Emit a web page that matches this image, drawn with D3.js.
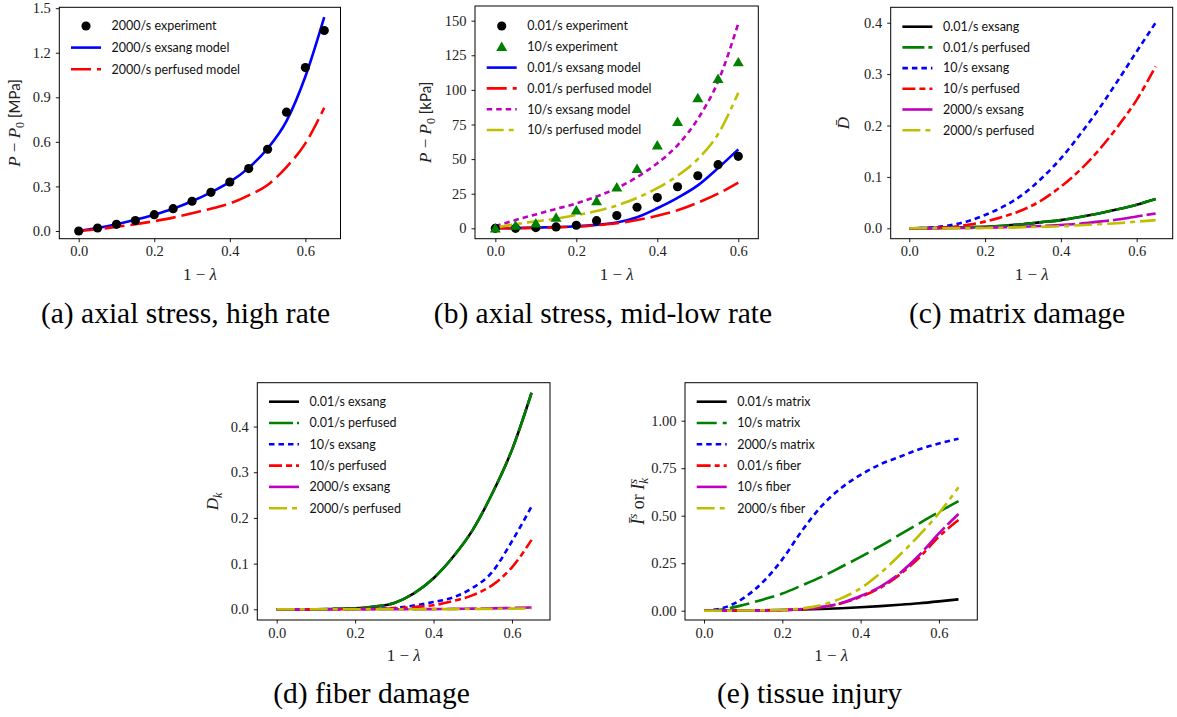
<!DOCTYPE html>
<html>
<head>
<meta charset="utf-8">
<script src="https://cdn.jsdelivr.net/npm/d3@7"></script>
<style>
  html, body { margin: 0; padding: 0; background: #ffffff; }
  svg { display: block; }
</style>
</head>
<body>
<svg id="fig" width="1177" height="717"></svg>
<script>
// ---------- strain values (1 - lambda) ----------
const strain13 = [0, 0.05, 0.1, 0.15, 0.2, 0.25, 0.3, 0.35, 0.4, 0.45, 0.5, 0.55, 0.6];
const strain14 = [0, 0.05, 0.1, 0.15, 0.2, 0.25, 0.3, 0.35, 0.4, 0.45, 0.5, 0.55, 0.6, 0.65];

// ---------- (a) axial stress, high rate [MPa] ----------
const aExperiment2000 = [0, 0.02, 0.045, 0.07, 0.11, 0.15, 0.20, 0.26, 0.33, 0.42, 0.55, 0.80, 1.10, 1.35];
const aExsang2000     = [0, 0.02, 0.045, 0.075, 0.11, 0.15, 0.20, 0.26, 0.33, 0.425, 0.555, 0.74, 1.04, 1.44];
const aPerfused2000   = [0, 0.012, 0.028, 0.045, 0.066, 0.09, 0.12, 0.15, 0.185, 0.24, 0.31, 0.43, 0.59, 0.83];

// ---------- (b) axial stress, mid-low rate [kPa] ----------
const bExperiment001 = [0, 0, 0.5, 1, 2.2, 5.5, 9.2, 15.2, 22.2, 30, 38, 46, 52];
const bExperiment10  = [0, 1.9, 3.6, 7.7, 13, 19.7, 29.6, 43, 60, 77, 94, 108, 120];
const bExsang001     = [0, 0.2, 0.5, 0.9, 1.5, 2.5, 4.2, 8, 14.5, 22, 31, 43.5, 57];
const bPerfused001   = [0, 0.1, 0.3, 0.7, 1.2, 2.2, 3.6, 6, 9, 13, 18.5, 25, 33];
const bExsang10      = [1.5, 6, 10, 14, 18, 23, 29, 37, 47, 60, 79, 106, 148];
const bPerfused10    = [0.5, 3, 5, 7, 9.5, 12.5, 16.5, 22, 29, 38, 50, 68, 98];

// ---------- (c) matrix damage ----------
const cExsang001     = [0, 0.0003, 0.001, 0.002, 0.003, 0.005, 0.008, 0.012, 0.016, 0.022, 0.029, 0.037, 0.046, 0.057];
const cPerfused001   = [0, 0.0003, 0.001, 0.002, 0.003, 0.005, 0.008, 0.012, 0.016, 0.022, 0.029, 0.037, 0.046, 0.057];
const cExsang10      = [0, 0.001, 0.005, 0.013, 0.026, 0.043, 0.066, 0.098, 0.136, 0.182, 0.232, 0.287, 0.344, 0.4];
const cPerfused10    = [0, 0.0005, 0.002, 0.0065, 0.013, 0.023, 0.036, 0.055, 0.081, 0.113, 0.152, 0.198, 0.25, 0.315];
const cExsang2000    = [0, 0, 0.0003, 0.0006, 0.001, 0.002, 0.003, 0.0045, 0.0065, 0.009, 0.013, 0.017, 0.023, 0.029];
const cPerfused2000  = [0, 0, 0.0002, 0.0004, 0.0007, 0.0012, 0.002, 0.003, 0.004, 0.006, 0.008, 0.01, 0.013, 0.016];

// ---------- (d) fiber damage ----------
const dExsang001     = [0, 0, 0.0002, 0.001, 0.002, 0.006, 0.014, 0.035, 0.068, 0.115, 0.174, 0.254, 0.349, 0.474];
const dPerfused001   = [0, 0, 0.0002, 0.001, 0.002, 0.006, 0.014, 0.035, 0.068, 0.115, 0.174, 0.254, 0.349, 0.474];
const dExsang10      = [0, 0, 0, 0, 0.0005, 0.001, 0.003, 0.008, 0.016, 0.026, 0.047, 0.082, 0.149, 0.225];
const dPerfused10    = [0, 0, 0, 0, 0.0005, 0.001, 0.002, 0.005, 0.009, 0.018, 0.031, 0.053, 0.092, 0.152];
const dExsang2000    = [0, 0, 0, 0, 0, 0, 0, 0.0003, 0.0005, 0.001, 0.0015, 0.002, 0.003, 0.004];
const dPerfused2000  = [0, 0, 0, 0, 0, 0, 0, 0.0002, 0.0003, 0.0005, 0.0008, 0.001, 0.0015, 0.002];

// ---------- (e) tissue injury ----------
const eMatrix001  = [0, 0.0003, 0.001, 0.002, 0.004, 0.006, 0.009, 0.013, 0.018, 0.024, 0.031, 0.039, 0.049, 0.06];
const eMatrix10   = [0, 0.008, 0.03, 0.058, 0.09, 0.133, 0.178, 0.23, 0.283, 0.34, 0.4, 0.46, 0.52, 0.577];
const eMatrix2000 = [0, 0.015, 0.065, 0.15, 0.27, 0.42, 0.55, 0.645, 0.715, 0.77, 0.81, 0.85, 0.88, 0.905];
const eFiber001   = [0, 0, 0.0003, 0.001, 0.0025, 0.007, 0.018, 0.038, 0.073, 0.12, 0.19, 0.28, 0.39, 0.477];
const eFiber10    = [0, 0, 0.0003, 0.001, 0.003, 0.008, 0.02, 0.04, 0.077, 0.126, 0.197, 0.293, 0.407, 0.509];
const eFiber2000  = [0, 0, 0.001, 0.002, 0.004, 0.012, 0.03, 0.065, 0.118, 0.197, 0.293, 0.398, 0.513, 0.65];

// ---------- tick values ----------
const xTickValues = [0, 0.2, 0.4, 0.6];
const aTickValues = [0, 0.3, 0.6, 0.9, 1.2, 1.5];
const bTickValues = [0, 25, 50, 75, 100, 125, 150];
const cTickValues = [0, 0.1, 0.2, 0.3, 0.4];
const dTickValues = [0, 0.1, 0.2, 0.3, 0.4];
const eTickValues = [0, 0.25, 0.5, 0.75, 1.0];

// ---------- styling ----------
const SERIF = "'Liberation Serif', 'Times New Roman', serif";
const SANS  = "Lato, 'DejaVu Sans', sans-serif";
const COL = { k: "#000000", b: "#0000ff", r: "#ff0000", g: "#008000", m: "#bf00bf", y: "#bfbf00" };
const LW = 2.6;

const svg = d3.select("#fig");
const defs = svg.append("defs");

function drawPanel(p) {
  const box = p.box;
  const x = d3.scaleLinear().domain(p.xDomain).range([box.left, box.right]);
  const y = d3.scaleLinear().domain(p.yDomain).range([box.bottom, box.top]);
  const g = svg.append("g").attr("class", "panel-" + p.id);

  defs.append("clipPath").attr("id", "clip-" + p.id)
    .append("rect")
    .attr("x", box.left).attr("y", box.top)
    .attr("width", box.right - box.left).attr("height", box.bottom - box.top);

  // axes
  const xAxis = g.append("g")
    .attr("transform", `translate(0,${box.bottom})`)
    .call(d3.axisBottom(x).tickValues(xTickValues).tickFormat(d3.format(".1f"))
      .tickSizeOuter(0).tickSize(3.5).tickPadding(4));
  const yAxis = g.append("g")
    .attr("transform", `translate(${box.left},0)`)
    .call(d3.axisLeft(y).tickValues(p.yTicks).tickFormat(d3.format(p.yFormat))
      .tickSizeOuter(0).tickSize(3.5).tickPadding(5));
  [xAxis, yAxis].forEach(a => {
    a.select(".domain").remove();
    a.attr("font-family", SERIF).attr("font-size", 14.5);
    a.selectAll(".tick line").attr("stroke", "#000").attr("stroke-width", 0.9);
    a.selectAll(".tick text").attr("fill", "#222");
  });

  // plotted series
  const plot = g.append("g").attr("clip-path", `url(#clip-${p.id})`);
  const markers = g.append("g");
  p.series.forEach(s => {
    const pts = s.x.map((v, i) => [v, s.y[i]]);
    if (s.type === "line") {
      plot.append("path")
        .datum(pts)
        .attr("fill", "none")
        .attr("stroke", s.color)
        .attr("stroke-width", LW)
        .attr("stroke-dasharray", s.dash || null)
        .attr("d", d3.line().x(d => x(d[0])).y(d => y(d[1])).curve(d3.curveMonotoneX));
    } else {
      const sym = s.type === "triangle" ? d3.symbolTriangle : d3.symbolCircle;
      const size = s.type === "triangle" ? 52 : 66;
      markers.selectAll(null).data(pts).enter().append("path")
        .attr("transform", d => `translate(${x(d[0])},${y(d[1]) + (s.type === "triangle" ? 1 : 0)})`)
        .attr("d", d3.symbol(sym, size))
        .attr("fill", s.color);
    }
  });

  // frame
  g.append("rect")
    .attr("x", box.left).attr("y", box.top)
    .attr("width", box.right - box.left).attr("height", box.bottom - box.top)
    .attr("fill", "none").attr("stroke", "#000").attr("stroke-width", 1);

  // legend
  const lg = g.append("g");
  p.series.forEach((s, i) => {
    const ly = box.top + p.legendTop + i * p.legendStep;
    const hx0 = box.left + 11.7, hx1 = hx0 + 30;
    if (s.type === "line") {
      lg.append("line")
        .attr("x1", hx0).attr("x2", hx1).attr("y1", ly).attr("y2", ly)
        .attr("stroke", s.color).attr("stroke-width", LW)
        .attr("stroke-dasharray", s.dash || null);
    } else {
      const sym = s.type === "triangle" ? d3.symbolTriangle : d3.symbolCircle;
      lg.append("path")
        .attr("transform", `translate(${(hx0 + hx1) / 2},${ly + (s.type === "triangle" ? 1 : 0)})`)
        .attr("d", d3.symbol(sym, s.type === "triangle" ? 52 : 66))
        .attr("fill", s.color);
    }
    lg.append("text")
      .attr("x", box.left + 52.3).attr("y", ly).attr("dy", "0.35em")
      .attr("font-family", SANS).attr("font-size", 12.5).attr("fill", "#111")
      .text(s.label);
  });

  // x label
  const xl = g.append("text")
    .attr("x", (box.left + box.right) / 2).attr("y", box.bottom + p.xLabelOffset)
    .attr("text-anchor", "middle").attr("font-family", SERIF).attr("font-size", 17).attr("fill", "#222");
  xl.append("tspan").text("1 \u2212 ");
  xl.append("tspan").attr("font-style", "italic").text("\u03bb");

  // y label
  const yl = g.append("text")
    .attr("transform", `translate(${p.yLabelX},${(box.top + box.bottom) / 2}) rotate(-90)`)
    .attr("text-anchor", "middle").attr("font-family", SERIF).attr("font-size", 17).attr("fill", "#222");
  p.yLabel(yl);

  // caption
  svg.append("text")
    .attr("x", p.caption.x).attr("y", p.caption.y)
    .attr("text-anchor", "middle").attr("font-family", SERIF).attr("font-size", 29.5).attr("fill", "#000")
    .text(p.caption.text);
}

function stressLabel(unit) {
  return t => {
    t.append("tspan").attr("font-style", "italic").text("P");
    t.append("tspan").text(" \u2212 ");
    t.append("tspan").attr("font-style", "italic").text("P");
    t.append("tspan").attr("font-size", 12).attr("dy", 4).text("0");
    t.append("tspan").attr("dy", -4).attr("font-family", SANS).attr("font-size", 15).text(" [" + unit + "]");
  };
}

drawPanel({
  id: "a",
  box: { left: 59.3, top: 7.3, right: 340.5, bottom: 238.7 },
  xDomain: [-0.0514, 0.693], yDomain: [-0.052, 1.506],
  yTicks: aTickValues, yFormat: ".1f",
  series: [
    { x: strain14, y: aExperiment2000, type: "circle", color: COL.k, label: "2000/s experiment" },
    { x: strain14, y: aExsang2000, type: "line", color: COL.b, label: "2000/s exsang model" },
    { x: strain14, y: aPerfused2000, type: "line", color: COL.r, dash: "20,6", label: "2000/s perfused model" }
  ],
  legendTop: 18.7, legendStep: 21.6,
  xLabelOffset: 41, yLabelX: 20,
  yLabel: stressLabel("MPa"),
  caption: { x: 185.5, y: 323, text: "(a) axial stress, high rate" }
});

drawPanel({
  id: "b",
  box: { left: 475, top: 6, right: 758.3, bottom: 238.7 },
  xDomain: [-0.0502, 0.6494], yDomain: [-7.5, 160.6],
  yTicks: bTickValues, yFormat: "d",
  series: [
    { x: strain13, y: bExperiment001, type: "circle", color: COL.k, label: "0.01/s experiment" },
    { x: strain13, y: bExperiment10, type: "triangle", color: COL.g, label: "10/s experiment" },
    { x: strain13, y: bExsang001, type: "line", color: COL.b, label: "0.01/s exsang model" },
    { x: strain13, y: bPerfused001, type: "line", color: COL.r, dash: "20,6", label: "0.01/s perfused model" },
    { x: strain13, y: bExsang10, type: "line", color: COL.m, dash: "5.5,4", label: "10/s exsang model" },
    { x: strain13, y: bPerfused10, type: "line", color: COL.y, dash: "17,5,5,5", label: "10/s perfused model" }
  ],
  legendTop: 20, legendStep: 20.8,
  xLabelOffset: 41, yLabelX: 431,
  yLabel: stressLabel("kPa"),
  caption: { x: 603, y: 323, text: "(b) axial stress, mid-low rate" }
});

drawPanel({
  id: "c",
  box: { left: 890.7, top: 7.3, right: 1172.7, bottom: 238.7 },
  xDomain: [-0.049, 0.695], yDomain: [-0.0202, 0.43],
  yTicks: cTickValues, yFormat: ".1f",
  series: [
    { x: strain14, y: cExsang001, type: "line", color: COL.k, label: "0.01/s exsang" },
    { x: strain14, y: cPerfused001, type: "line", color: COL.g, dash: "22,4", label: "0.01/s perfused" },
    { x: strain14, y: cExsang10, type: "line", color: COL.b, dash: "5.5,4", label: "10/s exsang" },
    { x: strain14, y: cPerfused10, type: "line", color: COL.r, dash: "13,4,6,4", label: "10/s perfused" },
    { x: strain14, y: cExsang2000, type: "line", color: COL.m, dash: "30,4", label: "2000/s exsang" },
    { x: strain14, y: cPerfused2000, type: "line", color: COL.y, dash: "18,5,5,5", label: "2000/s perfused" }
  ],
  legendTop: 19.4, legendStep: 20.7,
  xLabelOffset: 41, yLabelX: 849,
  yLabel: t => { t.append("tspan").attr("font-style", "italic").text("D\u0304"); },
  caption: { x: 1017, y: 323, text: "(c) matrix damage" }
});

drawPanel({
  id: "d",
  box: { left: 257.3, top: 382.7, right: 550, bottom: 620 },
  xDomain: [-0.0495, 0.697], yDomain: [-0.0234, 0.496],
  yTicks: dTickValues, yFormat: ".1f",
  series: [
    { x: strain14, y: dExsang001, type: "line", color: COL.k, label: "0.01/s exsang" },
    { x: strain14, y: dPerfused001, type: "line", color: COL.g, dash: "24,4", label: "0.01/s perfused" },
    { x: strain14, y: dExsang10, type: "line", color: COL.b, dash: "5.5,4", label: "10/s exsang" },
    { x: strain14, y: dPerfused10, type: "line", color: COL.r, dash: "13,4,6,4", label: "10/s perfused" },
    { x: strain14, y: dExsang2000, type: "line", color: COL.m, dash: "30,4", label: "2000/s exsang" },
    { x: strain14, y: dPerfused2000, type: "line", color: COL.y, dash: "18,5,5,5", label: "2000/s perfused" }
  ],
  legendTop: 19, legendStep: 21.3,
  xLabelOffset: 41, yLabelX: 218,
  yLabel: t => {
    t.append("tspan").attr("font-style", "italic").text("D");
    t.append("tspan").attr("font-style", "italic").attr("font-size", 12).attr("dy", 4).text("k");
  },
  caption: { x: 371.5, y: 703, text: "(d) fiber damage" }
});

drawPanel({
  id: "e",
  box: { left: 685, top: 382.7, right: 977.3, bottom: 620 },
  xDomain: [-0.0485, 0.698], yDomain: [-0.049, 1.2],
  yTicks: eTickValues, yFormat: ".2f",
  series: [
    { x: strain14, y: eMatrix001, type: "line", color: COL.k, label: "0.01/s matrix" },
    { x: strain14, y: eMatrix10, type: "line", color: COL.g, dash: "20,6", label: "10/s matrix" },
    { x: strain14, y: eMatrix2000, type: "line", color: COL.b, dash: "5.5,4", label: "2000/s matrix" },
    { x: strain14, y: eFiber001, type: "line", color: COL.r, dash: "14,4,5,4", label: "0.01/s fiber" },
    { x: strain14, y: eFiber10, type: "line", color: COL.m, dash: "30,4", label: "10/s fiber" },
    { x: strain14, y: eFiber2000, type: "line", color: COL.y, dash: "18,5,5,5", label: "2000/s fiber" }
  ],
  legendTop: 19, legendStep: 21.3,
  xLabelOffset: 41, yLabelX: 644,
  yLabel: t => {
    t.attr("font-size", 18);
    t.append("tspan").attr("font-style", "italic").text("I\u0304");
    t.append("tspan").attr("font-style", "italic").attr("font-size", 13).attr("dy", -7).text("s");
    t.append("tspan").attr("dy", 7).text(" or ");
    t.append("tspan").attr("font-style", "italic").text("I");
    t.append("tspan").attr("font-style", "italic").attr("font-size", 13).attr("dy", 4).text("k");
    t.append("tspan").attr("font-style", "italic").attr("font-size", 13).attr("dx", -6).attr("dy", -11).text("s");
  },
  caption: { x: 809.5, y: 703, text: "(e) tissue injury" }
});
</script>
</body>
</html>
